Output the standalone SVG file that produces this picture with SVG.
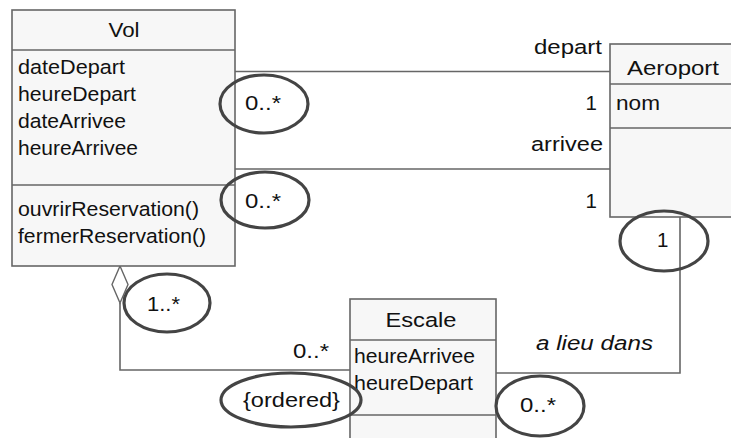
<svg xmlns="http://www.w3.org/2000/svg" width="731" height="438" viewBox="0 0 731 438">
<style>
.box{fill:#f7f7f7;stroke:#666;stroke-width:1.6}
.sep{stroke:#666;stroke-width:1.6}
.con{fill:none;stroke:#666;stroke-width:1.6}
.dia{fill:#fff;stroke:#666;stroke-width:1.4}
.t{font-family:"Liberation Sans",Arial,sans-serif;font-size:20.5px;fill:#111}
.it{font-style:italic}
.ov{fill:none;stroke:#444;stroke-width:3.2}
</style>
<rect x="0" y="0" width="731" height="438" fill="#fff"/>
<g id="connectors">
<line class="con" x1="235" y1="71.5" x2="610" y2="71.5"/>
<line class="con" x1="235" y1="169" x2="610" y2="169"/>
<path class="con" d="M680 217 V373 H496"/>
<path class="con" d="M120 303 V370 H350"/>
<polygon class="dia" points="120,266 128,284.5 120,303 112,284.5"/>
<text class="t" x="602" y="54" text-anchor="end" textLength="68" lengthAdjust="spacingAndGlyphs">depart</text>
<text class="t" x="597" y="110" text-anchor="end">1</text>
<text class="t" x="603" y="151" text-anchor="end" textLength="72" lengthAdjust="spacingAndGlyphs">arrivee</text>
<text class="t" x="597" y="208" text-anchor="end">1</text>
<text class="t" x="245" y="110" textLength="36" lengthAdjust="spacingAndGlyphs">0..*</text>
<text class="t" x="245" y="208" textLength="36" lengthAdjust="spacingAndGlyphs">0..*</text>
<text class="t" x="147" y="311" textLength="33" lengthAdjust="spacingAndGlyphs">1..*</text>
<text class="t" x="293" y="358" textLength="36" lengthAdjust="spacingAndGlyphs">0..*</text>
<text class="t" x="243" y="407" textLength="97" lengthAdjust="spacingAndGlyphs">{ordered}</text>
<text class="t it" x="536" y="350" textLength="117" lengthAdjust="spacingAndGlyphs">a lieu dans</text>
<text class="t" x="520" y="412" textLength="36" lengthAdjust="spacingAndGlyphs">0..*</text>
<text class="t" x="657" y="247">1</text>
</g>
<g id="Vol">
<rect class="box" x="12" y="10" width="223" height="256"/>
<line class="sep" x1="12" y1="50" x2="235" y2="50"/>
<line class="sep" x1="12" y1="185" x2="235" y2="185"/>
<text class="t" x="124" y="37" text-anchor="middle" textLength="31" lengthAdjust="spacingAndGlyphs">Vol</text>
<text class="t" x="18" y="74" textLength="107" lengthAdjust="spacingAndGlyphs">dateDepart</text>
<text class="t" x="18" y="101" textLength="118" lengthAdjust="spacingAndGlyphs">heureDepart</text>
<text class="t" x="18" y="128" textLength="108" lengthAdjust="spacingAndGlyphs">dateArrivee</text>
<text class="t" x="18" y="155" textLength="120" lengthAdjust="spacingAndGlyphs">heureArrivee</text>
<text class="t" x="18" y="216" textLength="181" lengthAdjust="spacingAndGlyphs">ouvrirReservation()</text>
<text class="t" x="18" y="243" textLength="188" lengthAdjust="spacingAndGlyphs">fermerReservation()</text>
</g>
<g id="Aeroport">
<rect class="box" x="610" y="44" width="126" height="173"/>
<line class="sep" x1="610" y1="84" x2="736" y2="84"/>
<line class="sep" x1="610" y1="128" x2="736" y2="128"/>
<text class="t" x="673" y="75" text-anchor="middle" textLength="92" lengthAdjust="spacingAndGlyphs">Aeroport</text>
<text class="t" x="616" y="110" textLength="44" lengthAdjust="spacingAndGlyphs">nom</text>
</g>
<g id="Escale">
<rect class="box" x="350" y="299" width="146" height="160"/>
<line class="sep" x1="350" y1="340" x2="496" y2="340"/>
<line class="sep" x1="350" y1="415" x2="496" y2="415"/>
<text class="t" x="421" y="327" text-anchor="middle" textLength="71" lengthAdjust="spacingAndGlyphs">Escale</text>
<text class="t" x="354" y="363" textLength="121" lengthAdjust="spacingAndGlyphs">heureArrivee</text>
<text class="t" x="354" y="390" textLength="119" lengthAdjust="spacingAndGlyphs">heureDepart</text>
</g>
<g id="annotations">
<ellipse class="ov" cx="264" cy="104" rx="44" ry="29"/>
<ellipse class="ov" cx="265" cy="200" rx="44" ry="28"/>
<ellipse class="ov" cx="167" cy="303" rx="43" ry="29"/>
<ellipse class="ov" cx="291" cy="400" rx="70" ry="27"/>
<ellipse class="ov" cx="540" cy="406" rx="44" ry="30"/>
<ellipse class="ov" cx="664" cy="241" rx="44" ry="30"/>
</g>
</svg>
